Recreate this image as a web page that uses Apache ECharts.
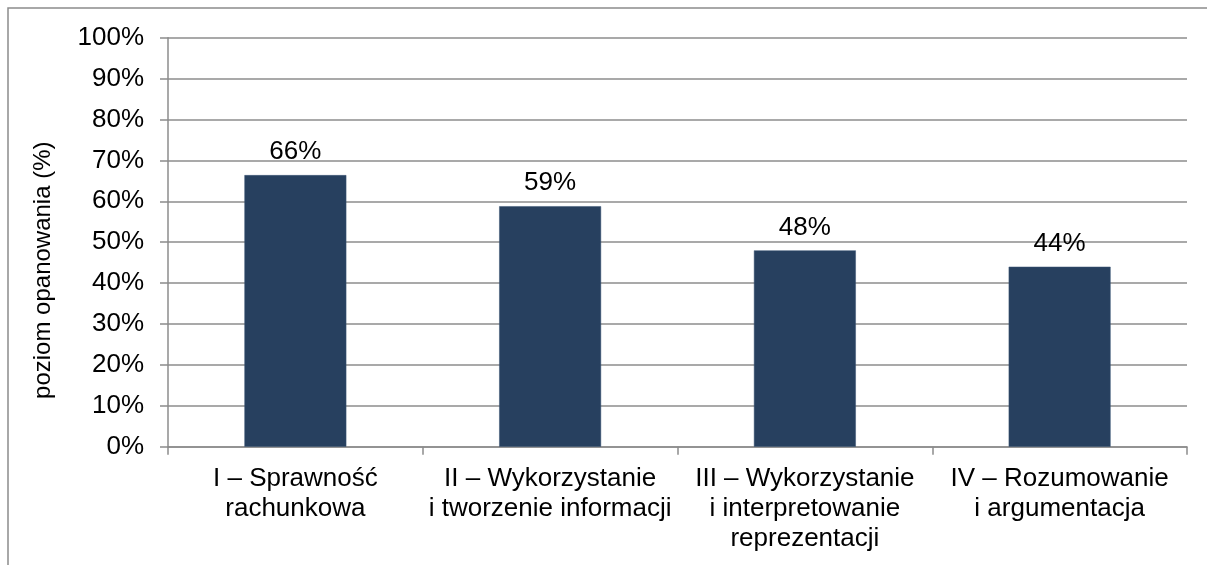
<!DOCTYPE html>
<html>
<head>
<meta charset="utf-8">
<script src="https://cdn.jsdelivr.net/npm/echarts@6/dist/echarts.min.js"></script>
<style>
  html, body { margin: 0; padding: 0; background: #fff; }
  #main { width: 1207px; height: 565px; }
</style>
</head>
<body>
<div id="main"></div>
<script>
// dane
var categories = [
  'I – Sprawność\nrachunkowa',
  'II – Wykorzystanie\ni tworzenie informacji',
  'III – Wykorzystanie\ni interpretowanie\nreprezentacji',
  'IV – Rozumowanie\ni argumentacja'
];
var values = [66.4, 58.8, 48.0, 44.0];
var yTicks = [0, 10, 20, 30, 40, 50, 60, 70, 80, 90, 100];

var FONT = '"Liberation Sans", Arial, sans-serif';
var GRAY = '#8c8c8c';

var myChart = echarts.init(document.getElementById('main'));

var option = {
  animation: false,
  backgroundColor: '#fff',
  textStyle: { fontFamily: FONT },
  graphic: [{
    type: 'rect',
    shape: { x: 8, y: 8, width: 1250, height: 600 },
    style: { fill: 'none', stroke: GRAY, lineWidth: 1.5 },
    silent: true
  }],
  grid: { left: 168, right: 20, top: 37.7, bottom: 118.3, containLabel: false },
  xAxis: {
    type: 'category',
    data: categories,
    axisLine: { lineStyle: { color: GRAY, width: 1.5 } },
    axisTick: { show: true, length: 8, lineStyle: { color: GRAY, width: 1.5 } },
    axisLabel: {
      interval: 0,
      margin: 17,
      color: '#000',
      fontFamily: FONT,
      fontSize: 26,
      lineHeight: 30,
      align: 'center'
    }
  },
  yAxis: {
    type: 'value',
    min: yTicks[0],
    max: yTicks[yTicks.length - 1],
    interval: 10,
    name: 'poziom opanowania (%)',
    nameLocation: 'middle',
    nameGap: 113,
    nameRotate: 90,
    nameTextStyle: {
      color: '#000', fontFamily: FONT, fontSize: 24,
      padding: [0, 56, 0, 0]
    },
    axisLine: { show: true, lineStyle: { color: GRAY, width: 1.5 } },
    axisTick: { show: true, length: 8, lineStyle: { color: GRAY, width: 1.5 } },
    axisLabel: {
      margin: 24,
      color: '#000',
      fontFamily: FONT,
      fontSize: 26,
      formatter: function (v) { return v + '%'; }
    },
    splitLine: { show: true, lineStyle: { color: GRAY, width: 1.5 } }
  },
  series: [{
    type: 'bar',
    data: values,
    barWidth: '40%',
    itemStyle: { color: '#27405f', borderColor: '#3a5475', borderWidth: 0.5 },
    label: {
      show: true,
      position: 'top',
      distance: 10,
      color: '#000',
      fontFamily: FONT,
      fontSize: 26,
      formatter: function (p) { return Math.round(p.value) + '%'; }
    }
  }]
};

myChart.setOption(option);
</script>
</body>
</html>
